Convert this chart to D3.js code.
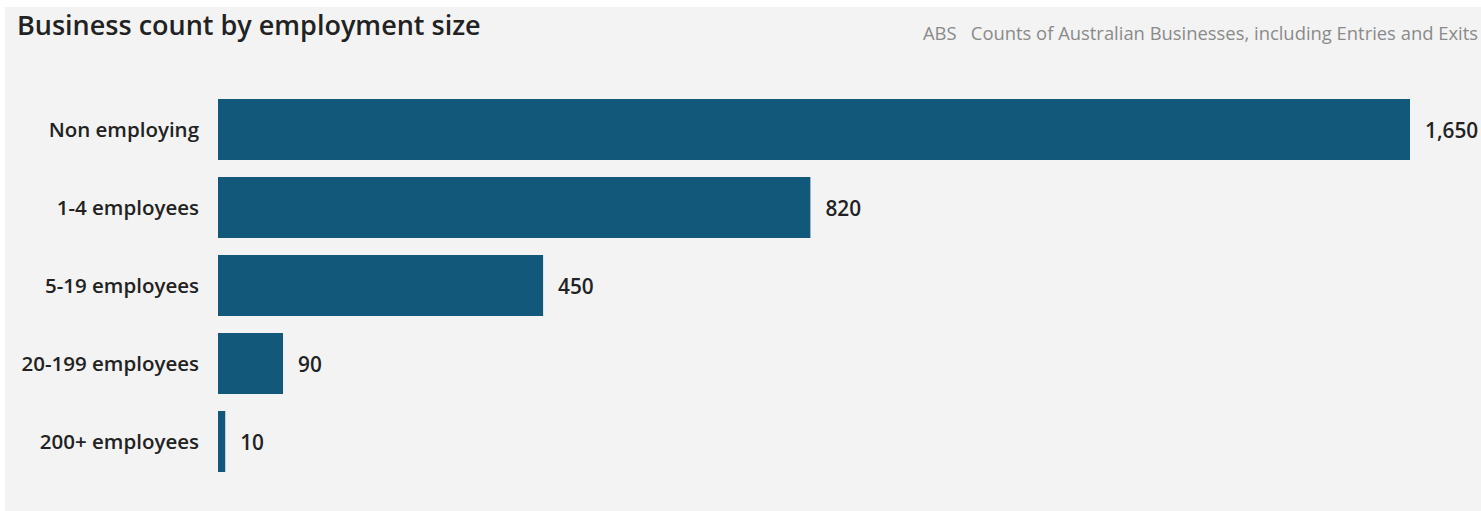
<!DOCTYPE html>
<html><head><meta charset="utf-8">
<script src="https://cdn.jsdelivr.net/npm/d3@7"></script>
<style>
html,body{margin:0;padding:0;background:#fff;}
svg{display:block;}
</style></head>
<body>
<svg id="chart" width="1481" height="511"></svg>
<script>
const categories = ["Non employing","1-4 employees","5-19 employees","20-199 employees","200+ employees"];
const values = [1650, 820, 450, 90, 10];
const title = "Business count by employment size";
const source = "ABS   Counts of Australian Businesses, including Entries and Exits";

const W = 1481, H = 511;
const svg = d3.select("#chart");
const font = "'Open Sans', 'Noto Sans', sans-serif";

svg.append("rect").attr("x",5).attr("y",7).attr("width",W-5).attr("height",H-7).attr("fill","#f3f3f3");

svg.append("text").attr("x",17).attr("y",35).attr("font-family",font).attr("font-weight",600)
  .attr("font-size",27).attr("fill","#222").text(title);
svg.append("text").attr("x",1478).attr("y",40).attr("text-anchor","end").attr("font-family",font)
  .attr("font-size",18.4).attr("fill","#8a8a8a").attr("xml:space","preserve").style("white-space","pre").text(source);

const x = d3.scaleLinear().domain([0,1650]).range([218,1410]);
const y = d3.scaleBand().domain(categories).range([82,489]).paddingInner(0.218).paddingOuter(0.218);

const g = svg.append("g");
g.selectAll("rect.bar").data(values).join("rect").attr("class","bar")
  .attr("x", x(0)).attr("y",(d,i)=>y(categories[i]))
  .attr("width", d=>x(d)-x(0)).attr("height", y.bandwidth()).attr("fill","#11587a");

g.selectAll("text.val").data(values).join("text").attr("class","val")
  .attr("x", d=>x(d)+15).attr("y",(d,i)=>y(categories[i])+y.bandwidth()/2+1)
  .attr("dy","0.35em").attr("font-family",font).attr("font-weight",600).attr("font-size",20.8)
  .attr("fill","#222").text(d=>d3.format(",")(d));

const yAxis = d3.axisLeft(y).tickSize(0).tickPadding(19);
const ax = svg.append("g").attr("transform",`translate(${x(0)},1)`).call(yAxis);
ax.select(".domain").remove();
ax.selectAll("text").attr("font-family",font).attr("font-weight",600).attr("font-size",20.5).attr("fill","#222");
</script>
</body></html>
